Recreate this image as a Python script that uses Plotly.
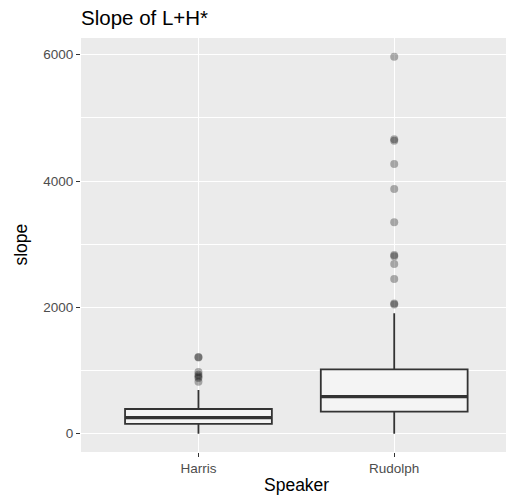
import plotly.graph_objects as go

# ---- data ----
speakers = ["Harris", "Rudolph"]
q1 = [154, 349]
median = [254, 586]
q3 = [391, 1019]
lower_whisker = [0, 0]
upper_whisker = [692, 1906]
harris_outliers = [1215, 1205, 975, 935, 905, 880, 822]
rudolph_outliers = [5968, 4660, 4640, 4269, 3873, 3346, 2830, 2810, 2687, 2449, 2060, 2045]
y_ticks = [0, 2000, 4000, 6000]

W, H = 506, 497
ML, MR, MT, MB = 80.5, 0, 38, 45
BOX_W = 0.75
LINE = "#333333"
FONT = "Liberation Sans, Arial, sans-serif"

fig = go.Figure()
positions = [i + 1 for i in range(len(speakers))]
outliers = [harris_outliers, rudolph_outliers]

for i, pos in enumerate(positions):
    fig.add_trace(go.Box(
        x=[pos], q1=[q1[i]], median=[median[i]], q3=[q3[i]],
        lowerfence=[lower_whisker[i]], upperfence=[upper_whisker[i]],
        width=BOX_W, whiskerwidth=0, boxpoints=False,
        fillcolor="#f4f4f4", line=dict(color=LINE, width=1.8),
        showlegend=False, hoverinfo="skip",
    ))
    # thicker median line as in ggplot
    fig.add_trace(go.Scatter(
        x=[pos - BOX_W / 2, pos + BOX_W / 2], y=[median[i], median[i]],
        mode="lines", line=dict(color=LINE, width=3.2),
        showlegend=False, hoverinfo="skip",
    ))
    fig.add_trace(go.Scatter(
        x=[pos] * len(outliers[i]), y=outliers[i], mode="markers",
        marker=dict(size=8, color="rgba(0,0,0,0.3)", line=dict(width=0)),
        showlegend=False, hoverinfo="skip",
    ))

plot_w = W - ML - MR
plot_h = H - MT - MB

fig.update_layout(
    width=W, height=H,
    margin=dict(l=ML, r=MR, t=MT, b=MB, pad=0),
    paper_bgcolor="white", plot_bgcolor="#ebebeb",
    font=dict(family=FONT, color="#4d4d4d"),
    title=dict(text="Slope of L+H*", x=0, xref="paper", xanchor="left",
               y=1 - 17.5 / H, yref="container", yanchor="middle",
               font=dict(size=20.5, color="black", family=FONT)),
    xaxis=dict(range=[0.4, 2.571], tickvals=positions, ticktext=speakers,
               showgrid=True, gridcolor="white", gridwidth=1.1,
               zeroline=False, showline=False,
               ticks="outside", ticklen=4, tickwidth=1, tickcolor=LINE,
               tickfont=dict(size=13.5, color="#4d4d4d")),
    yaxis=dict(range=[-290, 6265], tickvals=y_ticks,
               showgrid=True, gridcolor="white", gridwidth=1.1,
               minor=dict(tick0=1000, dtick=2000, showgrid=True,
                          gridcolor="white", gridwidth=0.5),
               zeroline=False, showline=False,
               ticks="outside", ticklen=4, tickwidth=1, tickcolor=LINE,
               tickfont=dict(size=13.5, color="#4d4d4d")),
)

fig.add_annotation(text="Speaker", xref="paper", yref="paper",
                   x=(296.5 - ML) / plot_w, y=-(485 - (H - MB)) / plot_h,
                   xanchor="center", yanchor="middle", showarrow=False,
                   font=dict(size=17.5, color="black", family=FONT))
fig.add_annotation(text="slope", xref="paper", yref="paper",
                   x=(20 - ML) / plot_w, y=0.5, textangle=-90,
                   xanchor="center", yanchor="middle", showarrow=False,
                   font=dict(size=17.5, color="black", family=FONT))

fig.write_html("out.html", config={"displayModeBar": False},
               post_script="document.body.style.margin='0';document.body.style.overflow='hidden';")
